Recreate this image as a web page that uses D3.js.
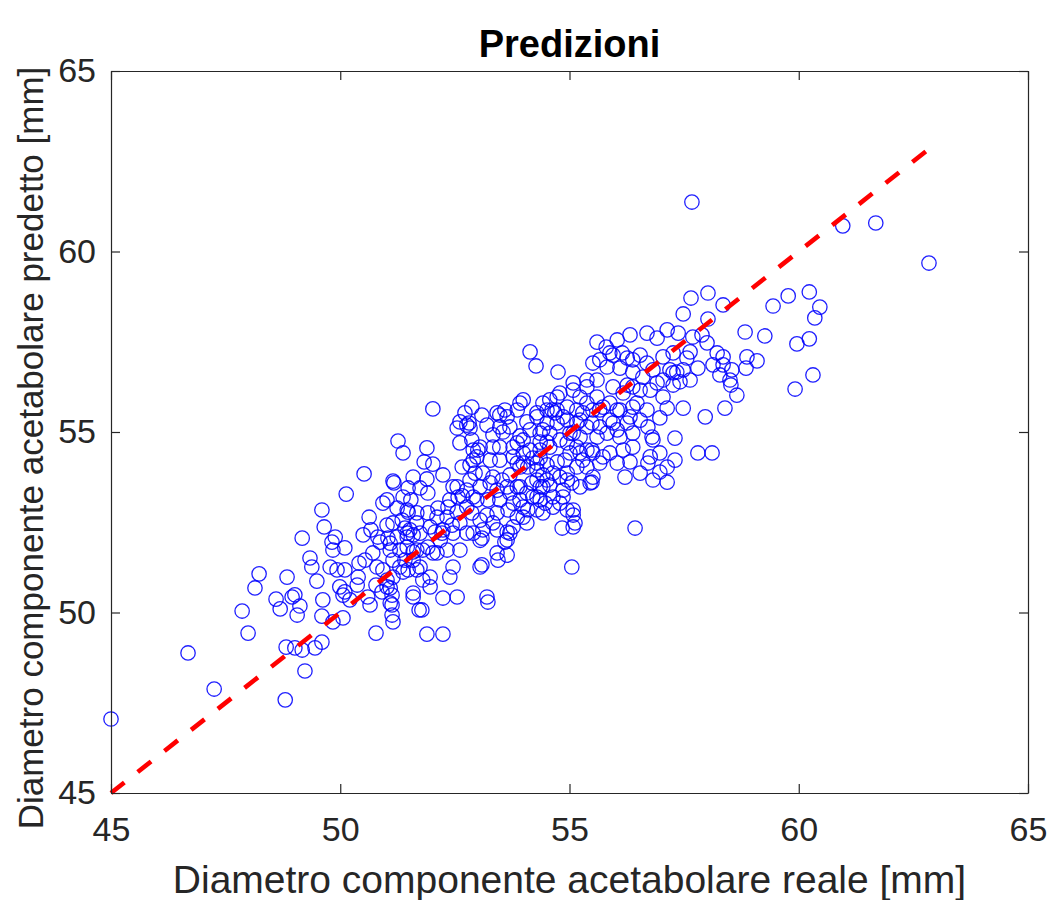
<!DOCTYPE html>
<html>
<head>
<meta charset="utf-8">
<script src="https://cdn.jsdelivr.net/npm/d3@7"></script>
<style>
  html, body { margin: 0; padding: 0; background: #ffffff; }
  svg { display: block; }
  text { font-family: "Liberation Sans", Arial, Helvetica, sans-serif; }
</style>
</head>
<body>
<div id="chart"></div>
<script>
// ---- data ----
const realX = [
45.00,46.68,47.25,48.80,49.23,47.99,47.86,48.14,48.23,48.60,
48.69,48.84,48.95,49.01,49.12,49.06,48.82,49.01,49.17,49.45,
49.60,49.17,49.34,49.38,49.49,49.62,49.60,49.84,50.06,49.60,
49.65,50.13,50.52,49.82,49.89,49.84,50.10,49.78,49.93,50.10,
49.99,50.10,50.21,50.06,50.39,50.37,50.41,50.54,50.50,50.63,
50.67,50.71,50.80,50.78,50.65,50.60,50.78,50.93,51.15,51.17,
51.59,51.48,51.37,51.24,51.46,51.35,51.41,51.15,51.02,50.82,
50.87,51.04,51.24,51.46,51.59,51.09,51.30,51.15,51.41,51.59,
50.93,51.02,51.09,50.91,51.13,51.13,51.15,51.59,51.72,51.30,
51.48,51.67,52.02,51.26,51.37,51.89,51.83,52.02,51.89,51.91,
52.24,52.55,52.66,52.61,52.87,52.61,52.72,52.87,52.81,52.76,
52.83,52.66,52.90,52.94,52.90,52.76,53.00,51.54,51.48,51.67,
51.91,52.13,52.33,52.55,52.35,51.67,51.96,52.22,52.46,52.76,
52.61,51.09,51.46,51.59,51.91,52.11,51.02,51.74,52.46,52.57,
52.83,53.09,53.20,53.05,52.98,53.27,53.11,53.05,52.98,52.76,
53.22,53.42,53.20,53.33,53.05,53.09,52.90,52.44,52.24,52.07,
52.18,52.33,52.02,51.80,51.74,51.96,51.80,51.67,51.37,51.15,
51.02,51.13,51.09,51.78,52.24,52.55,52.39,52.46,53.09,53.22,
53.44,53.64,53.59,53.64,53.77,53.86,53.99,54.07,53.77,53.92,
54.09,53.66,53.70,53.92,53.42,53.53,53.33,53.70,53.92,53.77,
53.99,54.20,54.09,54.29,54.42,54.51,54.29,54.18,54.36,54.57,
54.64,54.51,54.73,54.90,54.79,54.95,55.05,55.23,55.49,54.86,
54.79,54.95,55.08,54.84,55.08,55.05,54.47,54.29,54.20,53.48,
53.55,53.70,53.33,53.48,53.59,53.92,54.07,54.29,54.42,54.51,
54.68,54.73,54.51,54.36,53.99,53.86,54.95,55.08,55.23,55.38,
55.51,55.29,55.49,55.23,55.16,55.38,55.51,54.14,54.27,54.75,
55.60,55.80,56.04,56.32,56.69,56.91,57.13,57.37,57.48,57.89,
58.00,57.69,56.15,55.88,55.51,55.82,56.10,56.38,56.54,56.69,
56.82,57.04,57.26,57.19,57.34,57.63,57.63,57.41,57.26,58.22,
58.13,58.35,58.28,58.50,58.65,58.39,57.96,57.80,58.11,57.30,
57.30,57.13,56.97,56.82,56.54,56.32,56.21,56.43,56.71,56.80,
56.71,56.97,57.13,57.48,57.04,56.76,56.91,56.60,56.38,56.17,
56.47,56.69,56.32,56.04,56.04,55.88,55.73,55.60,55.38,55.60,
55.38,55.08,55.08,54.73,54.57,54.42,53.99,54.29,54.62,54.86,
55.16,55.49,55.60,55.82,55.01,54.79,54.57,54.36,54.14,53.99,
54.29,55.01,55.29,55.51,55.73,55.66,55.88,55.45,55.08,55.12,
54.64,54.36,58.02,57.65,58.35,58.02,58.83,59.26,59.44,59.77,
60.23,60.46,60.35,59.96,60.23,60.31,59.92,58.87,59.09,58.85,
58.52,58.35,58.54,57.80,57.26,57.67,60.96,61.68,62.84,55.66,
55.95,56.26,57.56,57.48,57.04,56.38,55.38,55.95,56.26,56.54,
55.23,54.79,54.73,54.95,55.16,55.66,55.88,56.10,56.38,56.54,
56.26,55.95,55.66,55.23,54.95,54.51,53.86,53.64,53.42,53.48,
53.92,54.14,54.36,54.57,56.10,56.38,56.82,56.97,56.76,56.38,
56.17,55.38,55.16,53.77,53.33,52.90,52.55,53.48,53.86,54.36,
56.04,57.13,54.42,54.95,54.86,54.64,54.29,54.07,53.86,53.64,
53.27,52.83,52.39,53.48,53.99,54.42,52.87,52.11,51.52,51.74,
53.11,53.42,53.70,51.46,52.61,53.05,53.42,53.05,53.64,51.96,
51.59,53.20,51.89,52.24
];
const predY = [
47.05,48.88,47.88,47.58,48.38,49.43,50.04,50.68,51.07,50.37,
50.10,50.98,50.43,50.49,50.18,49.93,49.04,49.02,48.96,49.02,
49.18,52.06,51.51,51.26,50.87,50.35,49.90,49.74,49.85,52.84,
52.37,53.28,53.84,51.95,52.09,51.73,51.79,51.26,51.18,51.18,
50.71,50.57,50.35,50.48,50.98,50.76,51.37,51.45,52.15,52.64,
52.29,51.65,51.26,50.76,50.21,50.43,49.43,53.03,53.64,53.59,
53.75,53.45,53.20,52.89,52.84,52.56,52.34,52.48,52.42,52.09,
51.95,52.06,52.09,52.09,52.15,51.73,51.73,51.45,51.45,51.45,
51.18,50.90,50.68,50.57,50.21,49.93,49.74,50.43,50.07,51.26,
51.18,51.73,55.64,54.75,54.42,54.56,54.17,54.11,53.70,53.31,
53.81,53.48,53.23,54.70,54.78,55.28,55.53,55.69,55.25,55.19,
55.11,54.03,54.22,53.86,53.20,53.39,54.50,53.12,52.78,52.76,
52.76,52.89,52.64,52.78,52.92,52.48,52.37,52.20,52.20,52.20,
52.48,51.92,52.20,51.68,51.81,51.65,53.12,53.45,53.48,53.20,
54.09,55.47,55.19,54.58,54.31,54.22,53.86,53.48,53.12,52.92,
53.12,52.76,52.70,52.48,52.56,52.06,52.20,52.42,52.29,52.23,
52.00,51.73,51.65,51.73,51.26,50.98,50.90,51.18,51.12,50.98,
50.71,50.48,50.26,50.07,50.40,50.43,50.98,51.26,51.32,50.29,
51.45,51.59,51.95,52.23,52.37,52.64,52.64,52.48,53.03,53.12,
52.84,52.84,53.31,53.48,53.39,53.67,53.75,53.81,54.03,54.31,
54.42,54.28,54.03,53.95,53.81,53.67,53.67,53.59,53.48,53.53,
53.86,54.09,54.17,54.22,53.75,53.86,53.59,53.48,53.61,53.20,
53.03,52.84,52.70,52.34,52.37,51.26,53.03,52.84,53.20,54.58,
55.00,55.14,54.92,55.47,55.61,55.80,55.28,55.53,55.06,55.61,
55.53,55.25,54.72,54.50,54.78,54.70,54.70,54.97,54.86,55.14,
55.61,55.53,54.50,54.42,54.03,54.03,53.75,57.22,56.83,56.66,
57.49,57.35,57.55,57.69,57.74,57.60,57.83,57.74,58.27,57.69,
57.47,57.63,57.19,57.19,56.91,56.80,56.77,57.00,57.13,56.91,
56.72,57.08,57.19,56.72,56.66,57.22,56.44,56.39,56.30,57.19,
56.86,56.86,56.58,56.44,56.02,55.66,55.42,54.42,54.42,54.83,
54.22,53.61,53.89,53.67,53.86,54.17,53.75,52.34,54.14,54.86,
55.14,55.39,55.66,55.66,55.97,56.16,56.36,56.52,56.25,56.08,
55.80,55.61,55.42,55.61,55.06,55.33,55.69,55.97,55.80,56.44,
56.44,56.36,56.16,55.97,55.89,55.80,55.89,55.42,55.61,55.42,
55.25,55.25,54.86,54.97,54.97,54.78,54.58,54.72,54.50,54.14,
54.14,54.42,54.22,54.42,54.31,54.14,54.42,53.59,52.84,52.48,
52.92,53.12,58.85,58.71,58.52,58.13,57.77,57.66,58.49,58.77,
58.88,58.46,58.16,57.44,57.58,56.58,56.19,57.08,56.97,56.77,
56.30,57.08,56.72,56.77,56.64,61.37,60.71,60.79,59.68,57.00,
57.13,57.05,57.05,56.72,56.44,56.66,56.25,56.25,56.30,56.16,
55.97,56.08,55.61,55.69,55.61,55.61,55.80,55.61,55.69,55.33,
55.25,55.25,55.14,55.33,55.33,55.25,55.61,55.42,55.53,55.14,
54.89,55.06,54.97,54.97,54.86,54.97,54.78,54.42,54.31,54.58,
54.50,54.50,54.58,54.58,54.58,54.50,55.11,54.22,54.14,54.28,
54.14,54.03,53.48,53.67,53.39,53.20,53.20,53.31,53.48,53.48,
53.59,53.67,53.12,53.12,52.92,52.76,52.76,52.64,52.29,52.20,
52.29,52.29,52.20,51.81,51.73,52.00,51.65,51.26,52.01,50.71,
50.54,50.43,49.40,49.40
];
const xTicks = [45, 50, 55, 60, 65];
const yTicks = [45, 50, 55, 60, 65];
const xDomain = [45, 65];
const yDomain = [45, 65];
const titleText = "Predizioni";
const xLabelText = "Diametro componente acetabolare reale [mm]";
const yLabelText = "Diametro componente acetabolare predetto [mm]";

// ---- layout ----
const W = 1056, H = 900;
const L = 111, R = 1028, T = 71, B = 793;
const axisColor = "#262626";

const svg = d3.select("#chart").append("svg")
  .attr("width", W).attr("height", H)
  .attr("viewBox", `0 0 ${W} ${H}`);

svg.append("rect").attr("width", W).attr("height", H).attr("fill", "#ffffff");

const x = d3.scaleLinear().domain(xDomain).range([L, R]);
const y = d3.scaleLinear().domain(yDomain).range([B, T]);

// scatter circles
const n = Math.min(realX.length, predY.length);
svg.append("g")
  .selectAll("circle")
  .data(d3.range(n))
  .join("circle")
  .attr("cx", i => x(realX[i]))
  .attr("cy", i => y(predY[i]))
  .attr("r", 7.2)
  .attr("fill", "none")
  .attr("stroke", "#0000ff")
  .attr("stroke-opacity", 0.88)
  .attr("stroke-width", 1.3);

// identity line from min to max of real values
const ext = d3.extent(realX);
const lineGen = d3.line().x(d => x(d[0])).y(d => y(d[1]));
svg.append("path")
  .datum([[ext[0], ext[0]], [ext[1], ext[1]]])
  .attr("d", lineGen)
  .attr("fill", "none")
  .attr("stroke", "#ff0000")
  .attr("stroke-width", 4.6)
  .attr("stroke-dasharray", "17,17");

// axes
function styleAxis(g, showLabels) {
  g.select(".domain").attr("stroke", axisColor).attr("stroke-width", 1.2);
  g.selectAll(".tick line").attr("stroke", axisColor).attr("stroke-width", 1.2);
  if (showLabels) {
    g.selectAll(".tick text")
      .attr("fill", axisColor)
      .style("font-size", "34px")
      .style("font-family", '"Liberation Sans", Arial, Helvetica, sans-serif');
  } else {
    g.selectAll(".tick text").remove();
  }
}

svg.append("g").attr("transform", `translate(0,${B})`)
  .call(d3.axisBottom(x).tickValues(xTicks).tickSizeInner(-9).tickSizeOuter(0).tickPadding(24).tickFormat(d3.format("d")))
  .call(g => styleAxis(g, true));
svg.append("g").attr("transform", `translate(0,${T})`)
  .call(d3.axisTop(x).tickValues(xTicks).tickSizeInner(-9).tickSizeOuter(0))
  .call(g => styleAxis(g, false));
svg.append("g").attr("transform", `translate(${L},0)`)
  .call(d3.axisLeft(y).tickValues(yTicks).tickSizeInner(-9).tickSizeOuter(0).tickPadding(15).tickFormat(d3.format("d")))
  .call(g => styleAxis(g, true));
svg.append("g").attr("transform", `translate(${R},0)`)
  .call(d3.axisRight(y).tickValues(yTicks).tickSizeInner(-9).tickSizeOuter(0))
  .call(g => styleAxis(g, false));

// title and labels
svg.append("text")
  .attr("x", (L + R) / 2).attr("y", 57)
  .attr("text-anchor", "middle")
  .attr("fill", "#000000")
  .style("font-size", "38px").style("font-weight", "bold")
  .text(titleText);

svg.append("text")
  .attr("x", (L + R) / 2).attr("y", 893)
  .attr("text-anchor", "middle")
  .attr("fill", axisColor)
  .style("font-size", "39px")
  .text(xLabelText);

svg.append("text")
  .attr("transform", `translate(43,${(T + B) / 2 + 16}) rotate(-90)`)
  .attr("text-anchor", "middle")
  .attr("fill", axisColor)
  .style("font-size", "35px")
  .text(yLabelText);
</script>
</body>
</html>
